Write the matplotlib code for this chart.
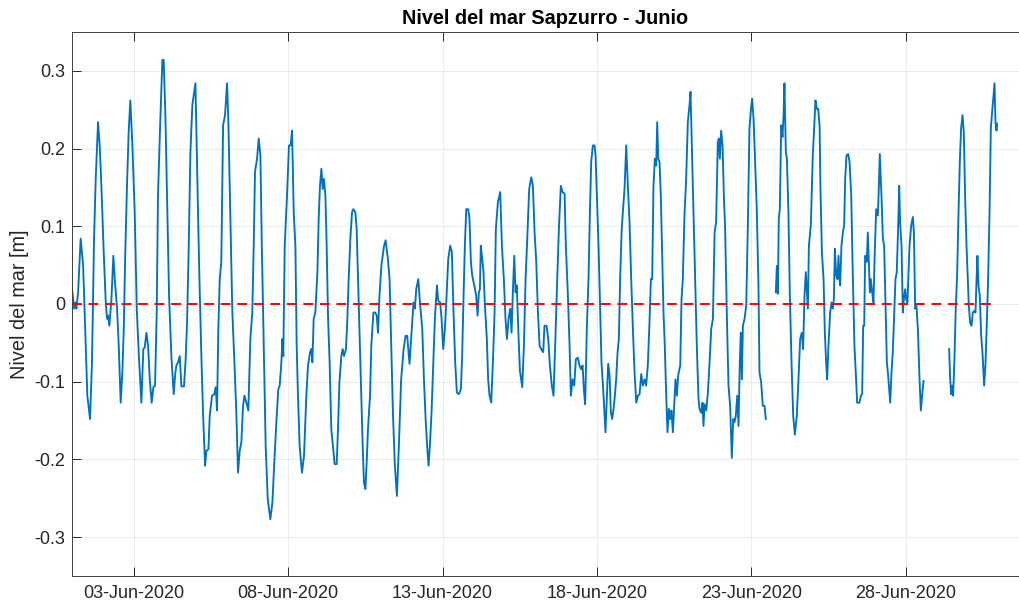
import numpy as np
import pandas as pd
import matplotlib
matplotlib.use('Agg')
import matplotlib.pyplot as plt
import matplotlib.dates as mdates

plt.rcParams['font.family'] = ['Liberation Sans', 'DejaVu Sans']

# hours since 01-Jun-2020 00:00 and sea level (m); nan marks missing records
horas = [
    0, 1.6, 2.6, 3.4, 4.7, 6.7, 8.6, 11.1, 11.9, 14, 15.5, 17.1, 18.4, 20.2, 21.5, 22.8,
    24.6, 26.2, 27.2, 28, 29, 30.6, 32.1, 33.2, 35, 36.3, 37.8, 39.1, 40.2, 41.4, 42.7,
    44, 45.3, 46.9, 48.7, 50.3, 51.8, 53.9, 55.4, 56.5, 57.8, 59.1, 60.4, 61.9, 63.2,
    64.5, 65.8, 66.8, 68.4, 70.2, 71.2, 72.5, 74.1, 75.4, 77.2, 79, 80.3, 81.1, 82.4,
    83.7, 85, 87, 88.3, 89.4, 90.7, 92, 93.5, 95.9, 97.1, 98.7, 100.3, 101.8, 103.4,
    104.4, 106, 107, 108.8, 110.6, 111.7, 112.7, 113.7, 114.8, 116, 117.4, 118.9, 120.5,
    121.5, 123.1, 124.6, 126.2, 127.7, 129, 130.3, 131.6, 132.9, 134, 135.5, 137, 138.6,
    140.1, 141.2, 142.2, 143.8, 145.1, 146.4, 147.4, 149, 150.5, 152.1, 154.1, 155.7,
    157.2, 158.8, 160.3, 161.4, 162.7, 163.5, 164.2, 165.3, 167.1, 168.6, 169.9, 171,
    172.3, 173.6, 174.6, 175.6, 176.9, 178.7, 180.3, 182.1, 183.4, 185, 186, 186.8, 187.8,
    189.1, 190.7, 191.7, 192.7, 193.8, 194.8, 195.8, 196.9, 197.9, 199, 200.2, 201.5,
    203.1, 204.1, 205.7, 206.7, 207.8, 209.3, 210.3, 211.4, 212.9, 214, 215, 216.3, 217.6,
    218.6, 220.2, 221.2, 222.3, 223.8, 224.9, 225.9, 226.9, 228, 229, 230, 231.6, 232.6,
    234.2, 235.7, 236.8, 237.8, 238.8, 240.4, 242.5, 243.7, 245.5, 246.8, 248.1, 249.4,
    250.9, 252.5, 254, 255.8, 257.7, 259.2, 260.5, 262.3, 263.9, 265.4, 266.5, 267.5,
    269.1, 270.6, 272.2, 273.5, 274.8, 276, 277.1, 278.1, 279.4, 280.7, 282, 283.6, 284.6,
    286.1, 287.2, 288.5, 289.8, 291.1, 292.4, 293.9, 295.2, 296.5, 297.8, 299.1, 300.7,
    302.2, 303.2, 304.3, 305.3, 306.4, 307.9, 308.9, 310, 311, 312.6, 314.1, 315.2, 316.2,
    317, 317.7, 318.8, 319.8, 320.9, 322.4, 323.4, 324.5, 325.8, 327.1, 328.4, 329.4, 331,
    332.8, 334.1, 335.6, 336.9, 338, 339.3, 340.6, 341.6, 342.6, 343.7, 344.7, 345.7,
    346.8, 348.1, 349.9, 351.2, 352.5, 353.8, 355.3, 356.9, 358.2, 359.5, 360.8, 362.1,
    363.4, 364.6, 366.2, 367.2, 368.8, 370.1, 371.4, 372.9, 374.2, 375.5, 377.1, 378.4,
    379.9, 381.2, 382.8, 383.8, 385.4, 386.7, 387.7, 389, 390.3, 391.6, 393.1, 394.4,
    395.7, 396.8, 397.8, 398.8, 400.1, 401.4, 402.5, 403.5, 404.8, 406.1, 406.9, 407.9,
    409.2, 410.5, 411.5, 413.1, 414.6, 415.7, 416.7, 417.8, 418.8, 419.8, 420.9, 421.9,
    422.9, 424, 425, 426, 427.1, 428.1, 429.4, 430.7, 432, 433.3, 434.6, 435.9, 437.2,
    438.5, 439.8, 441.1, 442.4, 443.6, 445, 446.2, 447.5, 448.8, 449.9, 450.9, 451.9, 453,
    454, 454.8, 455.6, 456.6, 457.6, 458.7, 459.7, 460.7, 461.8, 462.8, 463.9, 464.9,
    465.9, 467, 468, 469, 470.1, 471.1, 472.7, 473.7, 474.7, 476, 477.3, 478.6, 479.9,
    480.7, 481.7, 483, 484.3, 485.6, 486.9, 487.7, 489, 490, 490.8, 491.6, 492.9, 494.2,
    495.5, 496.8, 498.1, 499.4, 500.6, 501.9, 502.7, 503.5, 504.5, 505.6, 506.6, 507.6,
    508.9, 510.2, 511.5, 512.8, 513.9, 514.9, 515.9, 517, 518, 519, 519.8, 520.6, 521.4,
    522.7, 524, 525.3, 526.5, 527.8, 528.6, 529.7, 530.9, 532.2, 533.5, 534.3, 535.6,
    536.9, 538.2, 539.2, 543, 547, 547.8, 548.6, 549.3, 550.1, 551.2, 552.2, 553, 553.7,
    554.8, 555.6, 556.8, 557.9, 559.2, 560.5, 561.8, 563.3, 564.6, 565.9, 567.2, 568.2,
    569.3, 570.3, 571.9, 572.7, 574.2, 575.8, 576.8, 577.8, 578.9, 579.9, 581, 581.7,
    582.8, 584.1, 585.1, 586.1, 586.9, 587.9, 589.2, 590.3, 591.3, 592.1, 592.9, 593.9,
    594.9, 595.7, 596.5, 597, 598, 599.1, 600.1, 600.9, 601.9, 603.2, 604.3, 605.6, 606.9,
    608.1, 609.4, 610.2, 612, 613.1, 614.1, 614.9, 615.7, 616.4, 617.7, 618.5, 619.3,
    620.1, 620.8, 621.9, 622.9, 623.9, 625, 626.3, 627.1, 627.8, 629.1, 630.2, 631.2,
    632.2, 633.3, 634.3, 635.3, 635.9, 636.9, 637.9, 639, 640, 641, 642.1, 642.9, 643.6,
    644.7, 645.7, 646.5, 647.5, 648.3, 649.3, 650.9, 652.2, 653.5, 654.3, 655.3, 656.3,
    657.4, 658.7, 659.7, 660.7, 661.8, 670, 681.7, 682.5, 683.3, 684, 684.8, 685.9, 686.9,
    687.9, 689, 690, 691, 692.1, 693.1, 694.1, 695.2, 696.2, 697, 698, 699.1, 700.1, 701.1,
    702.2, 703, 703.7, 704.5, 705.5, 706.6, 707.6, 708.9, 709.9, 711, 712, 713.1, 714.1,
    715.1, 716.2, 717, 717.7, 718.5, 719,
]
nivel = [
    0.02, -0.006, 0.002, -0.006, 0.015, 0.084, 0.05, -0.075, -0.118, -0.148, -0.075, 0.084, 0.161, 0.234, 0.204, 0.152,
    0.067, 0.002, -0.019, -0.015, -0.028, 0.006, 0.062, 0.032, -0.006, -0.054, -0.127, -0.088, -0.032, 0.067, 0.152,
    0.221, 0.262, 0.204, 0.118, -0.006, -0.062, -0.127, -0.058, -0.056, -0.037, -0.054, -0.097, -0.127, -0.107,
    -0.105, -0.011, 0.14, 0.226, 0.314, 0.314, 0.247, 0.118, 0.011, -0.067, -0.116, -0.088, -0.079, -0.075,
    -0.067, -0.106, -0.106, -0.071, -0.024, 0.075, 0.195, 0.256, 0.284, 0.183, 0.054, -0.054, -0.14, -0.208,
    -0.189, -0.187, -0.144, -0.118, -0.116, -0.107, -0.137, -0.032, 0.032, 0.054, 0.23, 0.243, 0.284,
    0.234, 0.11, -0.011, -0.075, -0.14, -0.217, -0.189, -0.178, -0.131, -0.118, -0.127, -0.137, -0.045,
    -0.011, 0.075, 0.17, 0.187, 0.213, 0.191, 0.084, -0.054, -0.183, -0.251, -0.277, -0.256,
    -0.204, -0.152, -0.11, -0.105, -0.075, -0.045, -0.067, 0.075, 0.14, 0.204, 0.204, 0.223,
    0.118, 0.075, -0.054, -0.118, -0.183, -0.217, -0.195, -0.118, -0.079, -0.062, -0.058, -0.075, -0.019,
    -0.011, 0.041, 0.11, 0.152, 0.174, 0.148, 0.161, 0.14, 0.075, -0.019, -0.075, -0.161,
    -0.189, -0.206, -0.206, -0.161, -0.101, -0.067, -0.058, -0.067, -0.058, -0.019, 0.032, 0.084, 0.118,
    0.122, 0.118, 0.097, 0.032, -0.054, -0.118, -0.183, -0.23, -0.238, -0.204, -0.161, -0.118, -0.054,
    -0.011, -0.011, -0.015, -0.037, 0.006, 0.049, 0.075, 0.082, 0.058, 0.032, -0.054, -0.14,
    -0.208, -0.247, -0.183, -0.097, -0.058, -0.041, -0.041, -0.077, -0.037, 0.002, -0.006, 0.019,
    0.032, -0.002, -0.032, -0.097, -0.148, -0.183, -0.208, -0.183, -0.14, -0.079, -0.019, 0.024, 0.004,
    0.002, -0.019, -0.058, -0.032, 0.011, 0.058, 0.075, 0.067, -0.011, -0.075, -0.114, -0.116,
    -0.11, -0.067, 0.011, 0.075, 0.122, 0.122, 0.11, 0.054, 0.037, 0.024, 0.011, -0.015, 0.015,
    0.019, 0.075, 0.058, 0.041, -0.002, -0.045, -0.097, -0.118, -0.127, -0.075, -0.011, 0.097, 0.131,
    0.144, 0.075, 0.032, -0.019, -0.045, -0.019, -0.006, -0.037, 0.015, 0.062, 0.015, 0.024,
    -0.032, -0.086, -0.107, -0.054, 0.032, 0.084, 0.148, 0.163, 0.152, 0.092, 0.054, -0.011,
    -0.054, -0.058, -0.062, -0.028, -0.028, -0.045, -0.079, -0.105, -0.118, -0.054, 0.032, 0.097,
    0.152, 0.144, 0.142, 0.075, 0.011, -0.054, -0.118, -0.097, -0.105, -0.071, -0.069, -0.079,
    -0.084, -0.079, -0.11, -0.129, -0.032, 0.032, 0.118, 0.183, 0.204, 0.204, 0.191, 0.14,
    0.075, -0.011, -0.075, -0.118, -0.165, -0.118, -0.077, -0.092, -0.14, -0.148, -0.135, -0.118,
    -0.097, -0.062, -0.045, 0.032, 0.092, 0.118, 0.148, 0.204, 0.152, 0.105, 0.032, -0.032, -0.088,
    -0.127, -0.118, -0.116, -0.09, -0.105, -0.097, -0.105, -0.079, -0.024, 0.032, 0.032, 0.152, 0.187,
    0.178, 0.234, 0.187, 0.183, 0.14, 0.058, -0.011, -0.054, -0.118, -0.165, -0.135, -0.148,
    -0.137, -0.165, -0.131, -0.097, -0.118, -0.092, -0.079, 0.006, 0.032, 0.114, 0.161, 0.234, 0.256,
    0.273, 0.204, 0.118, 0.032, -0.054, -0.122, -0.135, -0.14, -0.127, -0.157, -0.129, -0.137, -0.114,
    -0.075, -0.032, -0.019, 0.092, 0.105, 0.208, 0.213, 0.187, 0.223, 0.204, 0.14, 0.097,
    -0.011, -0.105, -0.131, -0.198, -0.148, -0.152, -0.144, -0.118, -0.157, -0.075, -0.037, -0.097, -0.028,
    -0.019, -0.002, 0.105, 0.226, 0.253, 0.264, 0.238, 0.183, 0.122, 0.024, -0.088, -0.101,
    -0.131, -0.131, -0.148, np.nan, 0.015, 0.049, 0.013, 0.11, 0.122, 0.23, 0.215, 0.243, 0.284,
    0.195, 0.187, 0.118, 0.011, -0.075, -0.144, -0.168, -0.144, -0.097, -0.045, -0.037, -0.058,
    0.011, 0.041, -0.006, 0.075, 0.101, 0.195, 0.226, 0.262, 0.251, 0.251, 0.23, 0.148,
    0.067, 0.032, -0.037, -0.075, -0.097, -0.054, -0.011, 0.002, -0.006, 0.006, 0.071, 0.037,
    0.032, 0.062, 0.032, 0.024, 0.075, 0.092, 0.101, 0.161, 0.191, 0.193, 0.183, 0.14, 0.032,
    -0.054, -0.097, -0.127, -0.127, -0.118, -0.116, -0.028, -0.028, 0.062, 0.054, 0.092, 0.054,
    0.015, 0.032, 0.015, 0.002, 0.067, 0.122, 0.114, 0.152, 0.193, 0.14, 0.084, 0.075,
    0.006, -0.075, -0.092, -0.114, -0.127, -0.088, -0.062, -0.011, 0.032, 0.041, 0.101, 0.152, 0.105,
    0.075, -0.011, 0.006, 0.019, 0.006, 0.002, 0.075, 0.101, 0.112, 0.092, -0.006, -0.002,
    -0.032, -0.097, -0.137, -0.118, -0.099, np.nan, -0.058, -0.097, -0.116, -0.105, -0.118, -0.067, -0.002,
    0.037, 0.118, 0.183, 0.226, 0.243, 0.221, 0.14, 0.075, 0.032, -0.002, -0.024, -0.028, -0.011, -0.009,
    -0.011, 0.032, 0.062, 0.024, 0.011, -0.041, -0.062, -0.105, -0.079, -0.024, 0.032, 0.118, 0.226,
    0.247, 0.268, 0.284, 0.234, 0.223, 0.232,
]

inicio = pd.Timestamp('2020-06-01')
fechas = inicio + pd.to_timedelta(horas, unit='h')
ticks = pd.to_datetime(['2020-06-03', '2020-06-08', '2020-06-13',
                        '2020-06-18', '2020-06-23', '2020-06-28'])
yticks = [-0.3, -0.2, -0.1, 0, 0.1, 0.2, 0.3]

fig = plt.figure(figsize=(10.19, 6.06), dpi=100)
ax = fig.add_axes([0.0707, 0.0495, 0.9293, 0.8977])

ax.plot(fechas, nivel, color='#0072BD', lw=1.35)
ax.plot([fechas[0], fechas[-1]], [0, 0], 'r--', lw=1.4, dashes=(5, 3.5))

ax.set_xlim(inicio, inicio + pd.Timedelta(hours=736))
ax.set_ylim(-0.35, 0.35)
ax.set_xticks(ticks)
ax.xaxis.set_major_formatter(mdates.DateFormatter('%d-%b-%Y'))
ax.set_yticks(yticks)
ax.set_yticklabels(['-0.3', '-0.2', '-0.1', '0', '0.1', '0.2', '0.3'])

ax.grid(True, color='#ebebeb', lw=0.7)
ax.set_axisbelow(True)
ax.tick_params(direction='in', length=6.5, width=0.7, colors='#262626',
               labelsize=13, top=True, right=False)
ax.tick_params(axis='x', pad=6.5)
ax.tick_params(axis='y', pad=5)
for s in ['left', 'bottom', 'top']:
    ax.spines[s].set_color('#404040')
    ax.spines[s].set_linewidth(0.7)
ax.spines['right'].set_visible(False)

ax.set_ylabel('Nivel del mar [m]', fontsize=14.3, color='#262626')
ax.set_title('Nivel del mar Sapzurro - Junio', fontsize=14.3, fontweight='bold', pad=6)

fig.savefig('out.png', dpi=100)
